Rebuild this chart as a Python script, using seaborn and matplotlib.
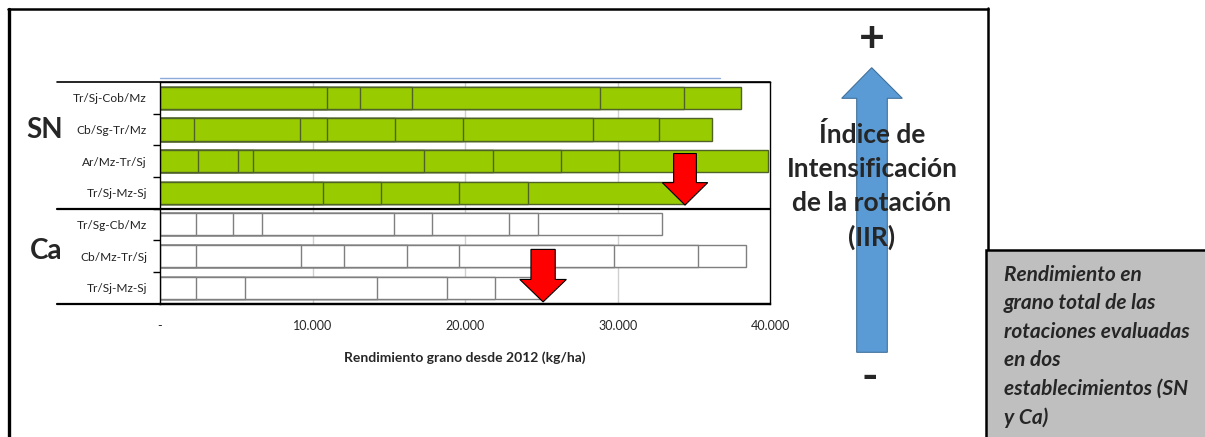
import numpy as np
import pandas as pd
import matplotlib
matplotlib.use("Agg")
import matplotlib.pyplot as plt
import seaborn as sns
from matplotlib.patches import Polygon, Rectangle
from matplotlib.lines import Line2D
from matplotlib.ticker import FuncFormatter, FixedLocator
import matplotlib.transforms as mtransforms

# Rotations (top to bottom) and their establishments
sites = ["SN", "SN", "SN", "SN", "Ca", "Ca", "Ca"]
rotations = ["Tr/Sj-Cob/Mz", "Cb/Sg-Tr/Mz", "Ar/Mz-Tr/Sj", "Tr/Sj-Mz-Sj",
             "Tr/Sg-Cb/Mz", "Cb/Mz-Tr/Sj", "Tr/Sj-Mz-Sj"]

# Grain yield of each successive crop since 2012 (kg/ha)
sn_tr_sj_cob_mz = [10940, 2180, 3370, 12350, 5480, 3750]
sn_cb_sg_tr_mz = [2250, 6920, 1750, 4470, 4470, 8510, 4320, 3500]
sn_ar_mz_tr_sj = [2470, 2620, 1020, 11180, 4540, 4450, 3800, 9760]
sn_tr_sj_mz_sj = [10690, 3780, 5090, 4520, 10320]
ca_tr_sg_cb_mz = [2340, 2460, 1860, 8680, 2500, 5030, 1900, 8120]
ca_cb_mz_tr_sj = [2340, 6870, 2860, 4140, 3370, 10150, 5550, 3140]
ca_tr_sj_mz_sj = [2340, 3230, 8630, 4600, 3120, 3180]

crop_yields = [sn_tr_sj_cob_mz, sn_cb_sg_tr_mz, sn_ar_mz_tr_sj, sn_tr_sj_mz_sj,
               ca_tr_sg_cb_mz, ca_cb_mz_tr_sj, ca_tr_sj_mz_sj]

x_ticks = [0, 10000, 20000, 30000, 40000]
x_label = "Rendimiento grano desde 2012 (kg/ha)"

# Long table with cumulative yield at the end of each crop
keys = [f"{s}|{r}" for s, r in zip(sites, rotations)]
rows = []
for key, site, ylds in zip(keys, sites, crop_yields):
    cum = np.cumsum(ylds)
    for k, c in enumerate(cum):
        rows.append({"key": key, "site": site, "crop": k, "cum": c})
df = pd.DataFrame(rows)
totals = {key: float(np.sum(y)) for key, y in zip(keys, crop_yields)}

W, H = 1205, 437
fig = plt.figure(figsize=(W / 100, H / 100), dpi=100)
sns.set_style("white")
plt.rcParams["font.family"] = ["Lato", "DejaVu Sans"]

ax = fig.add_axes([160 / W, 1 - 303.5 / H, (770.5 - 160) / W, (303.5 - 82) / H])

styles = {"SN": ("#99CC00", "#4F6228"), "Ca": ("#FFFFFF", "#7F7F7F")}
for site in ["SN", "Ca"]:
    fill, edge = styles[site]
    sub = df[df["site"] == site]
    for k in sorted(sub["crop"].unique(), reverse=True):
        level = sub[sub["crop"] == k]
        sns.barplot(data=level, x="cum", y="key", order=keys, orient="h",
                    color=fill, saturation=1, edgecolor=edge, linewidth=1.0,
                    width=0.7, errorbar=None, ax=ax, zorder=2)

ax.set_xlim(0, 40000)
ax.set_ylim(6.5, -0.5)
ax.set_xlabel(x_label, fontsize=10, fontweight="bold", labelpad=14)
ax.set_ylabel("")

# x axis
ax.xaxis.set_major_locator(FixedLocator(x_ticks))
ax.xaxis.set_major_formatter(FuncFormatter(
    lambda v, p: "-" if v == 0 else f"{int(v):,}".replace(",", ".")))
ax.tick_params(axis="x", which="major", direction="inout", length=8, width=1,
               labelsize=9, pad=8, color="#000000")
for v in x_ticks[1:-1]:
    ax.axvline(v, color="#D0D0D0", lw=1, zorder=0)

# y axis: names centred on rows, tick marks between rows
ax.set_yticks(range(len(rotations)))
ax.set_yticklabels(rotations, fontsize=8.6, color="#222222")
ax.yaxis.set_minor_locator(FixedLocator(np.arange(0.5, 6, 1)))
ax.tick_params(axis="y", which="major", length=0, pad=9.4)
ax.tick_params(axis="y", which="minor", direction="out", length=5, width=1,
               color="#000000", left=True)

for name, sp in ax.spines.items():
    sp.set_visible(True)
    sp.set_color("#000000")
    sp.set_linewidth(1.0)
ax.spines["bottom"].set_linewidth(1.6)

# group separators extending into the label area
blend = mtransforms.blended_transform_factory(ax.transAxes, ax.transData)
for yy, lw in [(-0.5, 1.2), (3.5, 1.6), (6.5, 1.6)]:
    ax.add_line(Line2D([-0.169, 1.0], [yy, yy], transform=blend, color="#000000",
                       lw=lw, clip_on=False, zorder=5))
ax.add_line(Line2D([0, 0.917], [1.016, 1.016], transform=ax.transAxes,
                   color="#8EAADB", lw=1, clip_on=False))

ax.text(-0.189, 1.02, "SN", transform=blend, ha="center", va="center",
        fontsize=20, fontweight="bold")
ax.text(-0.187, 4.85, "Ca", transform=blend, ha="center", va="center",
        fontsize=20, fontweight="bold")

# red arrows pointing at the rotation with the lowest total of each site
def down_arrow(x_tip, y_tip, y_top, y_head, body_w, head_w):
    pts = [(x_tip - body_w / 2, y_top), (x_tip + body_w / 2, y_top),
           (x_tip + body_w / 2, y_head), (x_tip + head_w / 2, y_head),
           (x_tip, y_tip), (x_tip - head_w / 2, y_head),
           (x_tip - body_w / 2, y_head)]
    ax.add_patch(Polygon(pts, closed=True, facecolor="#FF0000",
                         edgecolor="#000000", lw=0.8, zorder=10, clip_on=False))

down_arrow(totals[keys[3]], 3.39, 1.76, 2.68, 1490, 2980)
down_arrow(totals[keys[6]], 6.45, 4.79, 5.74, 1590, 3050)

# annotation layer in pixel coordinates
ov = fig.add_axes([0, 0, 1, 1], zorder=20)
ov.set_xlim(0, W)
ov.set_ylim(H, 0)
ov.axis("off")

# outer frame
ov.add_line(Line2D([8.5, 8.5], [9, H + 2], color="#000000", lw=2.4))
ov.add_line(Line2D([7.5, 987.5], [9, 9], color="#000000", lw=1.8))
ov.add_line(Line2D([987.5, 987.5], [8, 250], color="#000000", lw=1.8))

# intensification arrow
blue = [(856.7, 352.3), (887.3, 352.3), (887.3, 98.3), (902.3, 98.3),
        (871.7, 67.7), (841.7, 98.3), (856.7, 98.3)]
ov.add_patch(Polygon(blue, closed=True, facecolor="#5B9BD5",
                     edgecolor="#41719C", lw=0.8, zorder=1))
ov.text(871.5, 39, "+", ha="center", va="center", fontsize=32, fontweight="bold")
ov.text(870, 377, "-", ha="center", va="center", fontsize=32, fontweight="bold")
ov.text(872, 186, "Índice de\nIntensificación\nde la rotación\n(IIR)",
        ha="center", va="center", fontsize=19, fontweight="bold",
        linespacing=1.5, zorder=3)

# caption box
ov.add_patch(Rectangle((985.5, 249.5), 222, 190, facecolor="#BFBFBF",
                       edgecolor="#000000", lw=1.8, zorder=2))
ov.text(1004, 265, "Rendimiento en\ngrano total de las\nrotaciones evaluadas\n"
        "en dos\nestablecimientos (SN\ny Ca)",
        ha="left", va="top", fontsize=15, fontweight="bold", style="italic",
        linespacing=1.53, zorder=3)

fig.savefig("out.png", dpi=100)
